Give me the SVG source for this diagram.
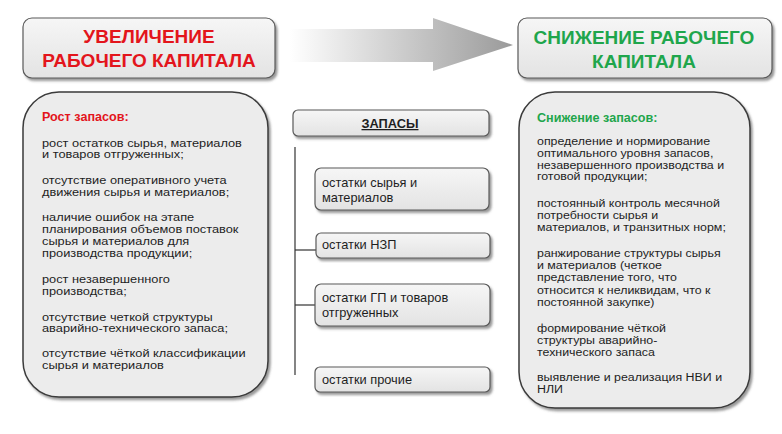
<svg xmlns="http://www.w3.org/2000/svg" width="782" height="434" viewBox="0 0 782 434">
<defs>
<linearGradient id="boxg" x1="0" y1="0" x2="0" y2="1">
<stop offset="0" stop-color="#F6F6F6"/>
<stop offset="1" stop-color="#E3E3E3"/>
</linearGradient>
<linearGradient id="arrg" x1="290" y1="0" x2="513" y2="0" gradientUnits="userSpaceOnUse">
<stop offset="0" stop-color="#FFFFFF"/>
<stop offset="1" stop-color="#9A9A9A"/>
</linearGradient>
<filter id="sh" x="-10%" y="-10%" width="125%" height="130%">
<feDropShadow dx="2" dy="2.5" stdDeviation="1.3" flood-color="#555" flood-opacity="0.6"/>
</filter>
</defs>
<style>
.box{fill:url(#boxg);stroke:#5A5A5A;stroke-width:1.2;filter:url(#sh)}
.big{fill:#ECECEC;stroke:#3A3A3A;stroke-width:1.5;filter:url(#sh)}
.title{font-family:"Liberation Sans",Arial,sans-serif;font-weight:bold;font-size:19px;text-anchor:middle}
.red{fill:#E3151C}
.green{fill:#1FA64C}
.head{font-family:"Liberation Sans",Arial,sans-serif;font-weight:bold;font-size:12.6px}
.t{font-family:"Liberation Sans",Arial,sans-serif;font-size:12.8px;fill:#1E1E1E}
.tr{font-family:"Liberation Sans",Arial,sans-serif;font-size:12.4px;fill:#1E1E1E}
.line{stroke:#333;stroke-width:1.2;fill:none}
</style>

<g id="arrow">
<polygon points="290,29 433,29 433,18 513,45 433,71 433,62 290,62" fill="url(#arrg)"/>
</g>

<g id="increase-title">
<rect class="box" x="23" y="18" width="252" height="60" rx="9"/>
<text class="title red" x="149" y="43">УВЕЛИЧЕНИЕ</text>
<text class="title red" x="149" y="67">РАБОЧЕГО КАПИТАЛА</text>
</g>

<g id="decrease-title">
<rect class="box" x="518" y="18" width="254" height="60" rx="9"/>
<text class="title green" x="644" y="44">СНИЖЕНИЕ РАБОЧЕГО</text>
<text class="title green" x="644" y="68">КАПИТАЛА</text>
</g>

<g id="increase-list">
<rect class="big" x="23" y="92" width="245" height="305" rx="36"/>
<text class="head red" x="42" y="121">Рост запасов:</text>
<text class="t" transform="translate(42,146.5) scale(1,0.84)" x="0" y="0">рост остатков сырья, материалов<tspan x="0" dy="14.29">и товаров отгруженных;</tspan></text>
<text class="t" transform="translate(42,184) scale(1,0.84)" x="0" y="0">отсутствие оперативного учета<tspan x="0" dy="14.29">движения сырья и материалов;</tspan></text>
<text class="t" transform="translate(42,221.3) scale(1,0.84)" x="0" y="0">наличие ошибок на этапе<tspan x="0" dy="14.29">планирования объемов поставок</tspan><tspan x="0" dy="14.29">сырья и материалов для</tspan><tspan x="0" dy="14.29">производства продукции;</tspan></text>
<text class="t" transform="translate(42,283) scale(1,0.84)" x="0" y="0">рост незавершенного<tspan x="0" dy="14.29">производства;</tspan></text>
<text class="t" transform="translate(42,320.5) scale(1,0.84)" x="0" y="0">отсутствие четкой структуры<tspan x="0" dy="14.29">аварийно-технического запаса;</tspan></text>
<text class="t" transform="translate(42,357) scale(1,0.84)" x="0" y="0">отсутствие чёткой классификации<tspan x="0" dy="14.29">сырья и материалов</tspan></text>
</g>

<g id="decrease-list">
<rect class="big" x="519" y="92" width="231" height="316" rx="36"/>
<text class="head green" x="537" y="121.5">Снижение запасов:</text>
<text class="tr" transform="translate(537,145) scale(1,0.84)" x="0" y="0">определение и нормирование<tspan x="0" dy="14.05">оптимального уровня запасов,</tspan><tspan x="0" dy="14.05">незавершенного производства и</tspan><tspan x="0" dy="14.05">готовой продукции;</tspan></text>
<text class="tr" transform="translate(537,207.3) scale(1,0.84)" x="0" y="0">постоянный контроль месячной<tspan x="0" dy="14.05">потребности сырья и</tspan><tspan x="0" dy="14.05">материалов, и транзитных норм;</tspan></text>
<text class="tr" transform="translate(537,257) scale(1,0.84)" x="0" y="0">ранжирование структуры сырья<tspan x="0" dy="14.52">и материалов (четкое</tspan><tspan x="0" dy="14.52">представление того, что</tspan><tspan x="0" dy="14.52">относится к неликвидам, что к</tspan><tspan x="0" dy="14.52">постоянной закупке)</tspan></text>
<text class="tr" transform="translate(537,331.7) scale(1,0.84)" x="0" y="0">формирование чёткой<tspan x="0" dy="14.52">структуры аварийно-</tspan><tspan x="0" dy="14.52">технического запаса</tspan></text>
<text class="tr" transform="translate(537,381) scale(1,0.84)" x="0" y="0">выявление и реализация НВИ и<tspan x="0" dy="14.52">НЛИ</tspan></text>
</g>

<g id="connectors">
<line class="line" x1="295" y1="147" x2="295" y2="375"/>
<line class="line" x1="295" y1="250" x2="316" y2="250"/>
<line class="line" x1="295" y1="305" x2="316" y2="305"/>
</g>

<g id="stocks">
<rect class="box" x="293" y="110" width="196" height="26" rx="5"/>
<text class="head" x="390" y="128" text-anchor="middle" text-decoration="underline" fill="#1E1E1E" style="font-size:12.8px">ЗАПАСЫ</text>
</g>

<g id="raw-materials">
<rect class="box" x="315" y="168" width="174" height="42" rx="6"/>
<text class="t" x="322" y="187.3">остатки сырья и<tspan x="322" dy="14.5">материалов</tspan></text>
</g>

<g id="wip">
<rect class="box" x="316" y="233" width="174" height="25" rx="5"/>
<text class="t" x="322" y="249">остатки НЗП</text>
</g>

<g id="finished-goods">
<rect class="box" x="315" y="284" width="175" height="42" rx="6"/>
<text class="t" x="322" y="301.7">остатки ГП и товаров<tspan x="322" dy="14.8">отгруженных</tspan></text>
</g>

<g id="other">
<rect class="box" x="315" y="367" width="175" height="25" rx="5"/>
<text class="t" x="322" y="384">остатки прочие</text>
</g>
</svg>
